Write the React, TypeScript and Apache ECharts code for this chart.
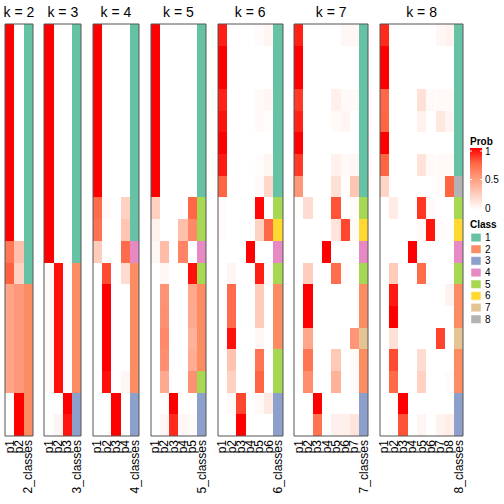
import React, { useEffect, useRef } from "react";
import * as echarts from "echarts";

// ---------- data ----------
const K_VALUES = [2, 3, 4, 5, 6, 7, 8];
const SAMPLES = ["s1","s2","s3","s4","s5","s6","s7","s8","s9","s10","s11","s12","s13","s14","s15","s16","s17","s18","s19"];

const probK2 = [
  [1, 0],[1, 0],[1, 0],[1, 0],[1, 0],[1, 0],[1, 0],[1, 0],[1, 0],[1, 0],
  [0.68, 0.32],[0.77, 0.23],
  [0.47, 0.53],[0.47, 0.53],[0.47, 0.53],[0.47, 0.53],[0.47, 0.53],
  [0, 1],[0, 1],
];
const classK2 = [1,1,1,1,1,1,1,1,1,1,1,1,2,2,2,2,2,2,2];

const probK3 = [
  [1,0,0],[1,0,0],[1,0,0],[1,0,0],[1,0,0],[1,0,0],[1,0,0],[1,0,0],[1,0,0],[1,0,0],[1,0,0],
  [0.03,0.96,0.01],[0.03,0.96,0.01],[0.03,0.96,0.01],[0.03,0.96,0.01],[0.03,0.96,0.01],[0.03,0.96,0.01],
  [0,0,1],[0,0.05,0.95],
];
const classK3 = [1,1,1,1,1,1,1,1,1,1,1,2,2,2,2,2,2,3,3];

const probK4 = [
  [1,0,0,0],[1,0,0,0],[1,0,0,0],[1,0,0,0],[1,0,0,0],[1,0,0,0],[1,0,0,0],[1,0,0,0],
  [0.73,0.03,0,0.24],[0.7,0,0,0.3],[0.27,0,0,0.73],[0,0.82,0,0.18],
  [0,1,0,0],[0,1,0,0],[0,1,0,0],[0,1,0,0],[0,0.96,0,0.04],
  [0,0,1,0],[0,0,1,0],
];
const classK4 = [1,1,1,1,1,1,1,1,1,1,4,2,2,2,2,2,2,3,3];

const probK5 = [
  [1,0,0,0,0],[1,0,0,0,0],[1,0,0,0,0],[1,0,0,0,0],[1,0,0,0,0],[1,0,0,0,0],[1,0,0,0,0],[1,0,0,0,0],
  [0.25,0,0,0,0.75],[0.07,0,0,0.33,0.6],[0.04,0.34,0,0.62,0],[0,0.04,0,0,0.96],
  [0,0.55,0,0,0.45],[0,0.56,0,0,0.44],[0,0.6,0,0,0.4],[0,0.57,0,0,0.43],[0,0.44,0,0,0.56],
  [0,0,1,0,0],[0,0.04,0.9,0.04,0.02],
];
const classK5 = [1,1,1,1,1,1,1,1,5,5,4,5,2,2,2,2,5,3,3];

const probK6 = [
  [0.93,0,0,0,0.02,0.05],[1,0,0,0,0,0],[1,0,0,0,0,0],[0.92,0,0,0,0.03,0.05],
  [0.96,0,0,0,0.03,0.01],[1,0,0,0,0,0],[0.94,0,0,0,0.01,0.05],[0.76,0,0,0,0.03,0.21],
  [0.02,0,0,0,0.98,0],[0.02,0,0,0,0.23,0.75],[0,0,0,1,0,0],[0,0.05,0,0,0.93,0.02],
  [0,0.73,0,0,0.27,0],[0,0.73,0,0,0.27,0],[0,0.96,0,0,0.04,0],
  [0,0.31,0,0,0.69,0],[0,0.24,0,0,0.76,0],
  [0,0.03,0.83,0,0.03,0.11],[0,0,1,0,0,0],
];
const classK6 = [1,1,1,1,1,1,1,1,5,6,4,5,2,2,2,5,5,3,3];

const probK7 = [
  [0.92,0,0,0,0,0.04,0.04],[1,0,0,0,0,0,0],[1,0,0,0,0,0,0],[0.86,0,0,0,0.08,0.03,0.03],
  [0.92,0,0,0,0.03,0.05,0],[1,0,0,0,0,0,0],[0.86,0,0,0,0.07,0.03,0.04],[0.53,0,0,0,0.16,0.01,0.3],
  [0,0.18,0,0,0.8,0,0.02],[0,0,0,0,0.14,0.83,0.03],[0,0,0,1,0,0,0],[0,0.26,0,0,0.72,0.02,0],
  [0,1,0,0,0,0,0],[0,1,0,0,0,0,0],[0,0.46,0,0,0,0,0.54],[0,0.69,0,0,0.28,0,0.03],[0,0.58,0,0,0.4,0,0.02],
  [0,0,1,0,0,0,0],[0,0,0.7,0,0.08,0.08,0.14],
];
const classK7 = [1,1,1,1,1,1,1,1,5,6,4,5,2,2,7,2,2,3,3];

const probK8 = [
  [0.9,0,0,0,0,0,0.04,0.06],[1,0,0,0,0,0,0,0],[1,0,0,0,0,0,0,0],[0.75,0,0,0,0.16,0.03,0.03,0.03],
  [0.76,0,0,0,0.07,0,0.12,0.05],[1,0,0,0,0,0,0,0],[0.76,0,0,0,0.15,0.03,0.03,0.03],[0.22,0,0,0,0,0,0.02,0.76],
  [0,0.1,0,0,0.87,0.03,0,0],[0,0,0,0,0.03,0.95,0.02,0],[0,0,0,1,0,0,0,0],[0,0.27,0,0,0.73,0,0,0],
  [0,0.94,0,0,0,0,0,0.06],[0,1,0,0,0,0,0,0],[0,0.16,0,0,0,0,0.84,0],[0,0.82,0,0,0.18,0,0,0],[0,0.74,0,0,0.24,0,0,0.02],
  [0,0,1,0,0,0,0,0],[0,0,0.8,0,0.05,0,0.06,0.09],
];
const classK8 = [1,1,1,1,1,1,1,8,5,6,4,5,2,2,7,2,2,3,3];

const PROBS = [probK2, probK3, probK4, probK5, probK6, probK7, probK8];
const CLASSES = [classK2, classK3, classK4, classK5, classK6, classK7, classK8];

const CLASS_IDS = [1, 2, 3, 4, 5, 6, 7, 8];
const CLASS_COLORS = ["#66C2A5", "#FC8D62", "#8DA0CB", "#E78AC3", "#A6D854", "#FFD92F", "#E5C494", "#B3B3B3"];
// white -> red ramp (interpolated in Lab)
const PROB_RAMP = ["#FFFFFF", "#FFCFBF", "#FF9E81", "#FF6846", "#FF0000"];
const PROB_TICKS = [1, 0.5, 0];

// ---------- layout ----------
const FONT = "'Liberation Sans', Arial, Helvetica, sans-serif";
const CELL_W = 9.3;
const GAP = 11.3;
const LEFT0 = 5;
const TOP = 24;
const HEIGHT = 412;

export default function App() {
  const ref = useRef<HTMLDivElement>(null);

  useEffect(() => {
    document.body.style.margin = "0";
    if (!ref.current) return;
    const chart = echarts.init(ref.current, null, { renderer: "svg" });

    const grids: any[] = [];
    const xAxes: any[] = [];
    const yAxes: any[] = [];
    const series: any[] = [];
    const graphics: any[] = [];
    const probSeriesIdx: number[] = [];
    const classSeriesIdx: number[] = [];

    let left = LEFT0;
    K_VALUES.forEach((k, i) => {
      const width = (k + 1) * CELL_W;
      grids.push({ left, top: TOP, width, height: HEIGHT, containLabel: false });
      const cats = [...Array.from({ length: k }, (_, j) => "p" + (j + 1)), k + "_classes"];
      xAxes.push({
        type: "category",
        gridIndex: i,
        data: cats,
        position: "bottom",
        axisLine: { show: false },
        axisTick: { show: false },
        splitLine: { show: false },
        axisLabel: { rotate: 90, interval: 0, fontSize: 12, color: "#000", margin: 4, fontFamily: FONT },
      });
      yAxes.push({
        type: "category",
        gridIndex: i,
        data: SAMPLES,
        inverse: true,
        show: false,
      });

      const renderCell = (params: any, api: any) => {
        const c = api.coord([api.value(0), api.value(1)]);
        const s = api.size([1, 1]);
        const x0 = Math.round(c[0] - s[0] / 2);
        const x1 = Math.round(c[0] + s[0] / 2);
        const y0 = Math.round(c[1] - s[1] / 2);
        const y1 = Math.round(c[1] + s[1] / 2);
        return {
          type: "rect",
          shape: { x: x0, y: y0, width: x1 - x0, height: y1 - y0 },
          style: { fill: api.visual("color") },
        };
      };

      const probData: number[][] = [];
      PROBS[i].forEach((row, r) => row.forEach((v, c) => probData.push([c, r, v])));
      probSeriesIdx.push(series.length);
      series.push({
        type: "custom",
        name: "prob" + k,
        xAxisIndex: i,
        yAxisIndex: i,
        renderItem: renderCell,
        encode: { x: 0, y: 1 },
        data: probData,
      });

      const classData = CLASSES[i].map((cl, r) => [k, r, cl]);
      classSeriesIdx.push(series.length);
      series.push({
        type: "custom",
        name: "class" + k,
        xAxisIndex: i,
        yAxisIndex: i,
        renderItem: renderCell,
        encode: { x: 0, y: 1 },
        data: classData,
      });

      graphics.push({
        type: "rect",
        z: 100,
        silent: true,
        shape: { x: Math.round(left), y: TOP, width: Math.round(left + width) - Math.round(left), height: HEIGHT },
        style: { fill: "none", stroke: "#555", lineWidth: 1 },
      });
      graphics.push({
        type: "text",
        z: 100,
        x: left + width / 2,
        y: 12,
        style: { text: "k = " + k, fontSize: 14, fontFamily: FONT, fill: "#000", align: "center", verticalAlign: "middle" },
      });

      left += width + GAP;
    });

    // legend: Prob
    const LX = 470;
    graphics.push({
      type: "text", x: LX, y: 141,
      style: { text: "Prob", fontSize: 10, fontWeight: "bold", fontFamily: FONT, fill: "#000", verticalAlign: "middle" },
    });
    const barTop = 148, barBot = 210;
    graphics.push({
      type: "rect",
      shape: { x: LX, y: barTop, width: 12, height: barBot - barTop },
      style: {
        fill: new echarts.graphic.LinearGradient(0, 0, 0, 1, PROB_RAMP.slice().reverse().map((c, j) => ({ offset: j / (PROB_RAMP.length - 1), color: c }))),
      },
    });
    PROB_TICKS.forEach((t) => {
      const y = barBot - 2 - t * (barBot - barTop - 5);
      graphics.push({ type: "line", shape: { x1: LX, y1: y, x2: LX + 2, y2: y }, style: { stroke: "#fff", lineWidth: 1 } });
      graphics.push({ type: "line", shape: { x1: LX + 10, y1: y, x2: LX + 12, y2: y }, style: { stroke: "#fff", lineWidth: 1 } });
      graphics.push({
        type: "text", x: LX + 15, y,
        style: { text: String(t), fontSize: 10, fontFamily: FONT, fill: "#000", verticalAlign: "middle" },
      });
    });

    // legend: Class
    graphics.push({
      type: "text", x: LX, y: 224,
      style: { text: "Class", fontSize: 10, fontWeight: "bold", fontFamily: FONT, fill: "#000", verticalAlign: "middle" },
    });
    CLASS_IDS.forEach((id, j) => {
      const y = 233.3 + j * 11.67;
      graphics.push({
        type: "rect", shape: { x: LX + 1, y, width: 10, height: 8.5 },
        style: { fill: CLASS_COLORS[j], stroke: "#fff", lineWidth: 0.5 },
      });
      graphics.push({
        type: "text", x: LX + 15, y: y + 4.3,
        style: { text: String(id), fontSize: 10, fontFamily: FONT, fill: "#000", verticalAlign: "middle" },
      });
    });

    chart.setOption({
      animation: false,
      backgroundColor: "#fff",
      textStyle: { fontFamily: FONT },
      grid: grids,
      xAxis: xAxes,
      yAxis: yAxes,
      visualMap: [
        {
          type: "continuous",
          show: false,
          min: 0,
          max: 1,
          dimension: 2,
          seriesIndex: probSeriesIdx,
          inRange: { color: PROB_RAMP },
        },
        {
          type: "piecewise",
          show: false,
          dimension: 2,
          seriesIndex: classSeriesIdx,
          pieces: CLASS_IDS.map((id, j) => ({ value: id, color: CLASS_COLORS[j] })),
        },
      ],
      series,
      graphic: graphics,
    });

    return () => chart.dispose();
  }, []);

  return <div ref={ref} style={{ width: 504, height: 504 }} />;
}
